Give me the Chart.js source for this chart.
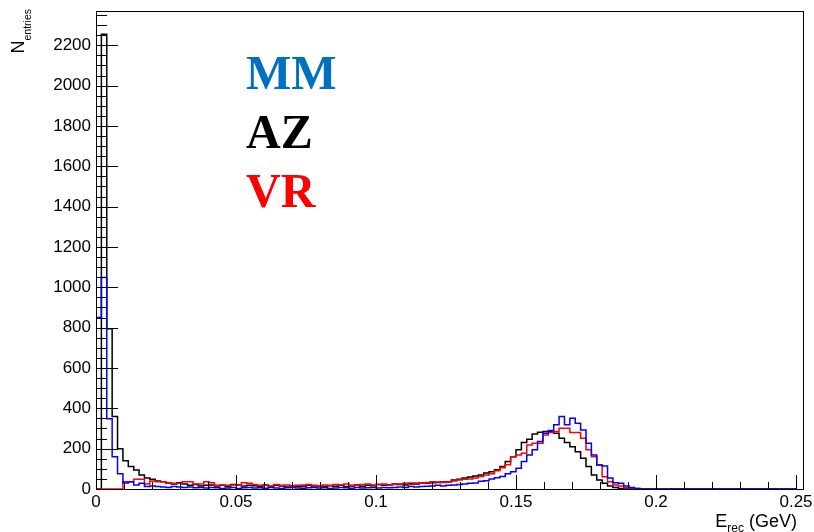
<!DOCTYPE html>
<html>
<head>
<meta charset="utf-8">
<script src="https://cdn.jsdelivr.net/npm/chart.js@4.4.1/dist/chart.umd.min.js"></script>
<style>
  html, body { margin: 0; padding: 0; background: #fff; }
  #wrap { width: 814px; height: 532px; }
</style>
</head>
<body>
<div id="wrap"><canvas id="c" width="814" height="532"></canvas></div>
<script>
'use strict';

/* ── binning: 130 bins over 0 – 0.25 GeV ── */
const X_MIN = 0, X_MAX = 0.25, N_BINS = 130;
const BIN_W = (X_MAX - X_MIN) / N_BINS;
const AXIS_X_MAX = 0.2525, AXIS_Y_MAX = 2370;

/* ── entries per bin ── */
const mmCounts = [
  850,1049,348,160,75,30,36,20,28,12,
  15,12,10,8,12,10,8,10,6,8,
  5,8,6,2,5,8,3,6,8,5,
  6,4,8,5,3,6,8,5,4,6,
  8,5,6,3,5,8,6,4,7,5,
  6,8,5,7,6,8,10,8,12,10,
  12,14,15,18,15,18,20,22,25,28,
  30,38,41,50,56,62,75,85,103,136,
  169,194,235,276,290,318,359,318,351,326,
  293,227,169,119,114,55,31,28,15,8,
  3,0,0,0,0,0,0,0,0,0,
  0,0,0,0,0,0,0,0,0,0,
  0,0,0,0,0,0,0,0,0,0
];
const azCounts = [
  0,2255,794,360,200,140,111,94,70,55,
  48,40,36,30,25,31,25,18,22,15,
  18,20,15,18,12,22,20,15,18,16,
  14,20,12,18,15,10,16,12,14,18,
  10,15,12,16,14,18,12,15,20,14,
  18,16,22,18,20,25,22,20,28,25,
  30,28,35,32,35,36,45,48,55,60,
  64,70,79,86,95,111,136,160,194,230,
  247,273,281,285,285,276,252,230,210,185,
  152,111,70,45,28,15,8,3,0,0,
  0,0,0,0,0,0,0,0,0,0,
  0,0,0,0,0,0,0,0,0,0,
  0,0,0,0,0,0,0,0,0,0
];
const vrCounts = [
  0,0,0,0,0,36,36,48,48,25,
  40,36,36,28,28,28,36,36,25,25,
  36,31,18,20,18,20,18,31,28,22,
  18,20,15,22,18,20,15,18,20,22,
  18,15,20,18,22,20,25,18,20,22,
  25,20,22,25,20,22,25,28,22,30,
  28,32,30,35,32,35,40,45,48,50,
  55,62,70,75,91,105,120,160,169,177,
  218,227,227,268,280,285,301,301,280,280,
  252,194,160,119,61,36,20,15,8,5,
  2,0,0,0,0,0,0,0,0,0,
  0,0,0,0,0,0,0,0,0,0,
  0,0,0,0,0,0,0,0,0,0
];

/* ── axis ticks and names ── */
const xTicks = [0, 0.05, 0.1, 0.15, 0.2, 0.25];
const xTickLabels = ['0', '0.05', '0.1', '0.15', '0.2', '0.25'];
const yTicks = [0, 200, 400, 600, 800, 1000, 1200, 1400, 1600, 1800, 2000, 2200];
const yTickLabels = ['0', '200', '400', '600', '800', '1000', '1200', '1400', '1600', '1800', '2000', '2200'];
const seriesNames = ['MM', 'AZ', 'VR'];
const nameColors = ['#0070c0', '#000000', '#ff0000'];

/* histogram outline: start on baseline, one point per bin low edge, drop at the end */
function histPoints(counts) {
  const pts = [{ x: X_MIN, y: 0 }];
  counts.forEach((c, i) => pts.push({ x: X_MIN + i * BIN_W, y: c }));
  pts.push({ x: X_MIN + counts.length * BIN_W, y: 0 });
  return pts;
}

const histStyle = { borderWidth: 1.5, pointRadius: 0, stepped: 'before', fill: false, tension: 0 };

/* ── frame + inward ticks (ROOT style) ── */
const framePlugin = {
  id: 'frame',
  afterDraw(chart) {
    const { ctx, chartArea: a, scales: { x, y } } = chart;
    ctx.save();
    ctx.strokeStyle = '#000';
    ctx.lineWidth = 1;
    ctx.beginPath();
    for (let k = 0; k * 0.01 <= AXIS_X_MAX; k++) {
      const px = Math.round(x.getPixelForValue(k * 0.01)) + 0.5;
      const len = k % 5 === 0 ? 14 : 7;
      ctx.moveTo(px, a.bottom);
      ctx.lineTo(px, a.bottom - len);
    }
    for (let k = 0; k * 50 <= AXIS_Y_MAX; k++) {
      const py = Math.round(y.getPixelForValue(k * 50)) + 0.5;
      const len = k % 4 === 0 ? 22 : 11;
      ctx.moveTo(a.left, py);
      ctx.lineTo(a.left + len, py);
    }
    ctx.stroke();
    ctx.strokeRect(Math.round(a.left) + 0.5, Math.round(a.top) + 0.5,
                   Math.round(a.right - a.left), Math.round(a.bottom - a.top));
    ctx.restore();
  }
};

/* ── axis titles and series names ── */
const textPlugin = {
  id: 'texts',
  afterDraw(chart) {
    const ctx = chart.ctx;
    ctx.save();
    ctx.textAlign = 'left';
    ctx.textBaseline = 'alphabetic';

    ctx.font = 'bold 48px "Liberation Serif"';
    seriesNames.forEach((n, i) => {
      ctx.fillStyle = nameColors[i];
      ctx.fillText(n, 246, 89 + i * 59);
    });

    ctx.fillStyle = '#000';
    // E_rec (GeV), right aligned under the x axis end
    const big = '18px "Liberation Sans"', small = '12px "Liberation Sans"';
    ctx.font = big; const wE = ctx.measureText('E').width;
    const wG = ctx.measureText(' (GeV)').width;
    ctx.font = small; const wR = ctx.measureText('rec').width;
    let x0 = 797 - (wE + wR + wG);
    ctx.font = big; ctx.fillText('E', x0, 527);
    ctx.font = small; ctx.fillText('rec', x0 + wE, 532);
    ctx.font = big; ctx.fillText(' (GeV)', x0 + wE + wR, 527);

    // N_entries, rotated, ending at the top
    ctx.font = big; const wN = ctx.measureText('N').width;
    ctx.font = '10.5px "Liberation Sans"'; const wS = ctx.measureText('entries').width;
    ctx.translate(24, 9 + wN + wS);
    ctx.rotate(-Math.PI / 2);
    ctx.font = big; ctx.fillText('N', 0, 0);
    ctx.font = '10.5px "Liberation Sans"'; ctx.fillText('entries', wN, 7);
    ctx.restore();
  }
};

Chart.defaults.font.family = '"Liberation Sans", Arial, Helvetica, sans-serif';
Chart.defaults.color = '#000';

new Chart(document.getElementById('c'), {
  type: 'line',
  data: {
    datasets: [
      { label: 'MM', data: histPoints(mmCounts), borderColor: '#0000ff', ...histStyle },
      { label: 'VR', data: histPoints(vrCounts), borderColor: '#ff0000', ...histStyle },
      { label: 'AZ', data: histPoints(azCounts), borderColor: '#000000', ...histStyle }
    ]
  },
  options: {
    responsive: false,
    animation: false,
    layout: { padding: { top: 11, right: 11, left: 0, bottom: 0 } },
    plugins: { legend: { display: false }, tooltip: { enabled: false } },
    scales: {
      x: {
        type: 'linear', min: 0, max: AXIS_X_MAX,
        grid: { display: false, drawTicks: false },
        border: { display: false },
        afterFit(s) { s.height = 43; s.paddingLeft = 0; s.paddingRight = 0; },
        afterBuildTicks(s) { s.ticks = xTicks.map(v => ({ value: v })); },
        ticks: {
          padding: 3, maxRotation: 0, autoSkip: false,
          font: { size: 17 },
          callback: (v, i) => xTickLabels[i]
        }
      },
      y: {
        type: 'linear', min: 0, max: AXIS_Y_MAX,
        grid: { display: false, drawTicks: false },
        border: { display: false },
        afterFit(s) { s.width = 96; s.paddingTop = 0; s.paddingBottom = 0; },
        afterBuildTicks(s) { s.ticks = yTicks.map(v => ({ value: v })); },
        ticks: {
          padding: 5, autoSkip: false,
          font: { size: 17 },
          callback: (v, i) => yTickLabels[i]
        }
      }
    }
  },
  plugins: [framePlugin, textPlugin]
});
</script>
</body>
</html>
